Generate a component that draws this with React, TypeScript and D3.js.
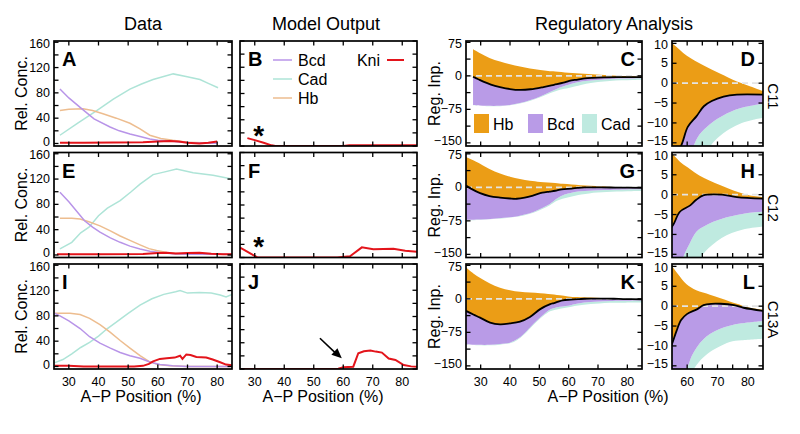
import React from "react";
import * as d3 from "d3";

type P = [number, number][];

// ---------- Data panels (A, E, I) ----------
const bcdA: P = [[27,86],[30,72],[33.8,57],[38.5,39],[43.9,26],[47,20],[50.6,15],[54,11],[57.3,7],[60,5],[64,4],[68,2],[72,1],[76,0.5],[80,0.5]];
const cadA: P = [[27,13],[33,32],[39.4,52],[45,70],[50.6,86],[54.5,94],[58.4,101],[65.2,110],[69.5,106],[74.2,101],[77,95],[80.3,88]];
const hbA: P = [[27,52],[30,54],[34.8,55],[38,52],[41.5,47],[46,40],[50.6,32],[54,23],[57.3,13],[61,8],[65,5],[70,2],[75,1],[80,0.5]];
const kniA: P = [[27,1],[35,1],[45,1.5],[55,2],[60,3],[64,4],[67,3],[70,1],[74,0],[77,1],[80,3]];

const bcdE: P = [[27,99],[30,84],[33,67],[35.3,54],[38,44],[40.5,36],[44,27],[47.3,20],[50.6,14],[54,9.5],[57.3,6],[60.7,4],[65,2],[70,1],[85,1]];
const cadE: P = [[27,9.5],[31,20],[34,35],[36.8,44],[40,62],[43,74],[47.3,86],[51,100],[54,112],[58.4,127],[62,131],[66.3,136],[71.9,130],[78.6,126],[85,120]];
const hbE: P = [[27,58],[31,58],[33.8,57],[37,52],[40.5,46],[44,38],[47.3,30],[50.6,23],[54,16],[57,10],[59.6,7],[63,4],[67,2],[72,1],[85,1]];
const kniE: P = [[26,1],[40,1],[55,1.5],[60,3],[63,3.5],[66,2.5],[70,3],[74,3.5],[78,2],[82,1],[85,1]];

const bcdI: P = [[25.3,84],[27,80],[30,72],[33.8,60],[37,47],[40.5,37],[44,29],[47.3,22],[50.6,17],[54,13],[57.3,7],[60.7,3],[65,1],[70,0],[85,0]];
const cadI: P = [[25.3,6],[28,11],[31,20],[34,30],[37,38],[40,48],[43,60],[46,70],[50,84],[54,97],[58,107],[62,114],[66,118],[67.5,120],[70,116],[74,117],[78,116],[81,113],[83,110],[85,114]];
const hbI: P = [[25.3,84],[28,84],[30.4,84],[33.8,82],[37,76],[40.5,66],[44,54],[47.3,41],[50.6,29],[54,17],[57,8],[60,3],[64,1],[70,0],[85,0]];
const kniI: P = [[25.3,1],[30,1],[35,0],[45,0],[52,0],[55,1],[57,4],[58.4,8],[60.7,12],[63,13],[65.7,14],[67.5,17],[68.3,12],[69.6,19],[71,18],[73,15],[76.3,14],[78.5,11],[80.8,7],[83,3],[85,2]];

// ---------- Model output (B, F, J): Kni only ----------
const kniB: P = [[27.5,12],[30,9],[33,5],[35.7,1],[37,0],[60,0],[62,1],[85,1]];
const kniF: P = [[25,15],[26.1,12.5],[29.5,3.8],[31,0],[58,0],[62.3,2],[66.3,15.5],[70.2,12.5],[77,13.4],[81,10.4],[85,8.8]];
const kniJ: P = [[25,0],[55,0],[58.3,0.5],[60,2.6],[63.4,3.5],[65.1,24],[67,27],[69.2,28],[71,26.5],[73.1,25],[75.4,16],[77.7,13.7],[80.5,6],[83,4],[85,3.5]];

// ---------- Regulatory analysis (C/D, G/H, K/L) ----------
const top11: P = [[27.4,59.5],[30,50],[33,40],[36.6,32],[40,26],[43.4,21],[46.8,16.5],[50.3,13],[53,10.8],[55.4,9.8],[59.9,6.9],[65.3,4.5],[70.8,2.4],[76.4,0.4],[80,-0.6],[85,-2]];
const black11: P = [[27.4,-2],[29,-7],[30.9,-13],[33.5,-19.5],[36.6,-25],[40,-29.5],[43.4,-31.5],[47,-30],[51.4,-25],[55,-20],[58.2,-15.4],[60.2,-11],[63.1,-8.3],[65.5,-5.8],[68.1,-4.5],[72,-3.4],[76.4,-2.9],[85,-2.9]];
const purple11: P = [[27.4,-65],[32,-67],[36.6,-67],[40,-65],[43.4,-61],[47,-54],[50.3,-46],[54,-35],[57,-26],[60,-20],[62,-16],[64,-13],[67.5,-10.3],[71,-8.5],[74,-7.3],[78,-6.2],[85,-5.2]];
const teal11: P = [[27.4,-66],[32,-68],[36.6,-68],[40,-66],[43.4,-62],[47,-55.5],[50.3,-48],[54,-38],[57,-31],[60,-27],[62,-24],[64.5,-20],[67.5,-16],[70,-13.8],[74,-11.5],[78,-10],[81.8,-9.2],[85,-8.7]];

const top12: P = [[25,68],[29.8,53],[33,41],[36.6,31],[40,24],[43.4,18.5],[46.8,14.5],[50.3,12],[55.4,10],[58,8],[61,6.4],[64,4.8],[67.5,3.5],[70.8,2.4],[74,1.4],[77,0.6],[80.7,-0.2],[85,-0.6]];
const black12: P = [[25,4],[27,-4],[29.8,-13],[33,-19.5],[36.6,-23],[40,-25],[42.3,-25.5],[45,-23],[48,-18],[51,-12],[53.5,-9.5],[55.4,-7.6],[57.6,-4.3],[61,-2.7],[63,-1.3],[65.3,-0.2],[71.4,0],[76.4,-0.6],[85,-1]];
const purple12: P = [[25,-72.5],[30,-72],[34.3,-70],[38,-68],[42.3,-65],[45,-61],[48,-55],[51,-46],[53.6,-37],[56,-25],[58.6,-16],[61,-12],[63.2,-9.2],[65.5,-8],[68.6,-6.8],[72,-5.9],[76.4,-5.1],[80,-4.6],[85,-4.3]];
const teal12: P = [[25,-73.5],[30,-73],[34.3,-71],[38,-69],[42.3,-66],[45,-62.5],[48,-57],[51,-48.5],[53.6,-40],[56,-30],[60,-22],[64.3,-16],[67,-13.5],[69.8,-11.7],[73,-10.2],[76.4,-9.2],[80,-8.5],[85,-8]];

const top13: P = [[25,70],[27.5,57],[30,46],[33,35],[36.6,25],[40,19.5],[43.4,16],[46.8,14],[50.3,12.5],[53,11],[55,10],[57,8],[59.8,5.5],[63,4],[67.5,2.9],[71,2],[74,1.2],[77,0.5],[79.6,-0.2],[85,-0.9]];
const black13: P = [[25,-27],[27.5,-35],[29.8,-42],[33.2,-53],[36.6,-57],[40,-55],[43.4,-51],[46.8,-40.5],[50.3,-23],[53.7,-12],[55,-9.5],[56.5,-6.2],[58,-3.5],[59.9,-2],[63.2,-0.8],[65.4,0.25],[68,0.6],[71,0.6],[75.4,0.25],[78.6,-0.4],[85,-1.2]];
const purple13: P = [[25,-101.6],[29,-103],[33.2,-103],[36.6,-101],[40,-98],[42.5,-90],[44.6,-79],[47,-63],[49.1,-49],[51.5,-35],[53.7,-24],[56,-19],[58,-17],[59.9,-15.6],[61.5,-12.5],[63.2,-10.3],[65.3,-8.4],[67.5,-7],[70.5,-5.8],[74,-4.9],[78,-4.3],[85,-3.7]];
const teal13: P = [[25,-103],[29,-104],[33.2,-104],[36.6,-102.5],[40,-99.5],[42.5,-92],[44.6,-81],[47,-65],[49.1,-51],[51.5,-37.5],[53.7,-28],[56,-24],[58,-21],[60,-19],[62,-16],[64.5,-13.5],[67.5,-11.5],[70.5,-10.2],[74,-9],[78,-8.6],[85,-8.2]];

// ---------- Labels / ticks ----------
const X_TICKS = [30, 40, 50, 60, 70, 80];
const X_TICKS_D = [60, 65, 70, 75, 80];
const X_LABELS_D = [60, 70, 80];
const CONC_LABELS = [0, 40, 80, 120, 160];
const CONC_MINOR = [0, 20, 40, 60, 80, 100, 120, 140, 160];
const INP_LABELS = [75, 0, -75, -150];
const INP_MINOR = [75, 37.5, 0, -37.5, -75, -112.5, -150];
const INPD_LABELS = [10, 5, 0, -5, -10, -15];
const TITLES = ["Data", "Model Output", "Regulatory Analysis"];
const ROW_NAMES = ["C11", "C12", "C13A"];
const LETTERS = [["A", "B", "C", "D"], ["E", "F", "G", "H"], ["I", "J", "K", "L"]];
const LEGEND_GENES = ["Bcd", "Cad", "Hb"];
const REG_LEGEND = ["Hb", "Bcd", "Cad"];

const C_BCD = "#b894e8";
const C_CAD = "#aee4d7";
const C_HB = "#edbd8f";
const C_KNI = "#e3141b";
const F_HB = "#eb9d16";
const F_BCD = "#b99be7";
const F_CAD = "#bfeae0";

const FONT = "'Liberation Sans', Arial, Helvetica, sans-serif";

const COLS = { A: [54, 232], B: [240, 417], C: [466, 642], D: [672, 763] };
const ROWS = [[41, 146], [152.5, 257.5], [264, 369]];
const TICK_FS = 12.5;

const fmt = (t: number) => (t < 0 ? "\u2212" + Math.abs(t) : String(t));

// y tick labels; the outermost labels are nudged inward so that labels of neighbouring rows do not collide
function YLabels({ ys, ticks, x }: any) {
  const hi = Math.max(...ticks), lo = Math.min(...ticks);
  return (
    <g>
      {ticks.map((t: number) => (
        <text key={t} x={x} y={ys(t) + (t === hi ? 1.5 : t === lo ? -1.5 : 0)} fontSize={TICK_FS} textAnchor="end" dominantBaseline="central">{fmt(t)}</text>
      ))}
    </g>
  );
}

function Frame({ id, xs, ys, xTicks, yTicks, tickLen = 4.5, children }: any) {
  const [x0, x1] = xs.range();
  const [y1, y0] = ys.range();
  return (
    <g>
      <defs>
        <clipPath id={id}>
          <rect x={x0} y={y0} width={x1 - x0} height={y1 - y0} />
        </clipPath>
      </defs>
      <g clipPath={`url(#${id})`}>{children}</g>
      <g stroke="#000" strokeWidth={1.3}>
        {xTicks.map((t: number) => (
          <g key={"x" + t}>
            <line x1={xs(t)} x2={xs(t)} y1={y0} y2={y0 + tickLen} />
            <line x1={xs(t)} x2={xs(t)} y1={y1} y2={y1 - tickLen} />
          </g>
        ))}
        {yTicks.map((t: number) => (
          <g key={"y" + t}>
            <line x1={x0} x2={x0 + tickLen} y1={ys(t)} y2={ys(t)} />
            <line x1={x1} x2={x1 - tickLen} y1={ys(t)} y2={ys(t)} />
          </g>
        ))}
      </g>
      <rect x={x0} y={y0} width={x1 - x0} height={y1 - y0} fill="none" stroke="#000" strokeWidth={1.7} />
    </g>
  );
}

function band(xs: any, ys: any, upper: P, lower: P) {
  const ln = d3.line<[number, number]>().x((d) => xs(d[0])).y((d) => ys(d[1])).curve(d3.curveCatmullRom.alpha(0.5));
  const f = ln(upper) as string;
  const b = ln(lower.slice().reverse()) as string;
  return f + "L" + b.slice(1) + "Z";
}

export default function App() {
  const dataSets = [
    { bcd: bcdA, cad: cadA, hb: hbA, kni: kniA },
    { bcd: bcdE, cad: cadE, hb: hbE, kni: kniE },
    { bcd: bcdI, cad: cadI, hb: hbI, kni: kniI },
  ];
  const modelSets = [kniB, kniF, kniJ];
  const regSets = [
    { top: top11, black: black11, purple: purple11, teal: teal11 },
    { top: top12, black: black12, purple: purple12, teal: teal12 },
    { top: top13, black: black13, purple: purple13, teal: teal13 },
  ];

  return (
    <svg width={800} height={434} style={{ display: "block", position: "absolute", left: 0, top: 0 }} fontFamily={FONT}>
      <rect width={800} height={434} fill="#fff" />
      <text x={143} y={30} fontSize={18} textAnchor="middle">{TITLES[0]}</text>
      <text x={326} y={30} fontSize={18} textAnchor="middle">{TITLES[1]}</text>
      <text x={614} y={30} fontSize={18} textAnchor="middle">{TITLES[2]}</text>

      {ROWS.map((r, ri) => {
        const [top, bot] = r;
        const mid = (top + bot) / 2;
        const xA = d3.scaleLinear().domain([25, 85]).range(COLS.A);
        const xB = d3.scaleLinear().domain([25, 85]).range(COLS.B);
        const xC = d3.scaleLinear().domain([25, 85]).range(COLS.C);
        const xD = d3.scaleLinear().domain([55, 85]).range(COLS.D);
        const yA = d3.scaleLinear().domain([-4, 162]).range([bot, top]);
        const yB = d3.scaleLinear().domain([0, 160]).range([bot, top]);
        const yC = d3.scaleLinear().domain([-157, 78]).range([bot, top]);
        const yD = d3.scaleLinear().domain([-15.8, 10.6]).range([bot, top]);
        const ds = dataSets[ri];
        const lineA = d3.line<[number, number]>().x((d) => xA(d[0])).y((d) => yA(d[1]));
        const lineB = d3.line<[number, number]>().x((d) => xB(d[0])).y((d) => yB(d[1]));
        const rs = regSets[ri];
        const lnC = d3.line<[number, number]>().x((d) => xC(d[0])).y((d) => yC(d[1])).curve(d3.curveCatmullRom.alpha(0.5));
        const lnD = d3.line<[number, number]>().x((d) => xD(d[0])).y((d) => yD(d[1])).curve(d3.curveCatmullRom.alpha(0.5));
        const last = ri === 2;
        return (
          <g key={ri}>
            <Frame id={"cA" + ri} xs={xA} ys={yA} xTicks={X_TICKS} yTicks={CONC_MINOR}>
              <path d={lineA(ds.cad) as string} fill="none" stroke={C_CAD} strokeWidth={1.5} />
              <path d={lineA(ds.hb) as string} fill="none" stroke={C_HB} strokeWidth={1.5} />
              <path d={lineA(ds.bcd) as string} fill="none" stroke={C_BCD} strokeWidth={1.5} />
              <path d={lineA(ds.kni) as string} fill="none" stroke={C_KNI} strokeWidth={2} />
            </Frame>
            <YLabels ys={yA} ticks={CONC_LABELS} x={COLS.A[0] - 4} />
            <text transform={`translate(21,${mid}) rotate(-90)`} fontSize={16} textAnchor="middle" dominantBaseline="central">Rel. Conc.</text>
            <text x={COLS.A[0] + 8} y={top + 25} fontSize={20} fontWeight="bold">{LETTERS[ri][0]}</text>

            <Frame id={"cB" + ri} xs={xB} ys={yB} xTicks={X_TICKS} yTicks={CONC_MINOR}>
              <path d={lineB(modelSets[ri]) as string} fill="none" stroke={C_KNI} strokeWidth={2} />
            </Frame>
            <text x={COLS.B[0] + 8} y={top + 25} fontSize={20} fontWeight="bold">{LETTERS[ri][1]}</text>

            <Frame id={"cC" + ri} xs={xC} ys={yC} xTicks={X_TICKS} yTicks={INP_MINOR}>
              <path d={band(xC, yC, rs.purple, rs.teal)} fill={F_CAD} />
              <path d={band(xC, yC, rs.black, rs.purple)} fill={F_BCD} />
              <path d={band(xC, yC, rs.top, rs.black)} fill={F_HB} />
              <line x1={COLS.C[0]} x2={COLS.C[1]} y1={yC(0)} y2={yC(0)} stroke="#e4e4e4" strokeWidth={1.6} strokeDasharray="6,4" />
              <path d={lnC(rs.black) as string} fill="none" stroke="#000" strokeWidth={1.8} />
            </Frame>
            <YLabels ys={yC} ticks={INP_LABELS} x={COLS.C[0] - 4} />
            <text transform={`translate(434,${mid}) rotate(-90)`} fontSize={16} textAnchor="middle" dominantBaseline="central">Reg. Inp.</text>
            <text x={COLS.C[1] - 7} y={top + 25} fontSize={20} fontWeight="bold" textAnchor="end">{LETTERS[ri][2]}</text>

            <Frame id={"cD" + ri} xs={xD} ys={yD} xTicks={X_TICKS_D} yTicks={INPD_LABELS}>
              <path d={band(xD, yD, rs.purple, rs.teal)} fill={F_CAD} />
              <path d={band(xD, yD, rs.black, rs.purple)} fill={F_BCD} />
              <path d={band(xD, yD, rs.top, rs.black)} fill={F_HB} />
              <line x1={COLS.D[0]} x2={COLS.D[1]} y1={yD(0)} y2={yD(0)} stroke="#e4e4e4" strokeWidth={1.6} strokeDasharray="6,4" />
              <path d={lnD(rs.black) as string} fill="none" stroke="#000" strokeWidth={1.8} />
            </Frame>
            <YLabels ys={yD} ticks={INPD_LABELS} x={COLS.D[0] - 4} />
            <text x={COLS.D[1] - 8} y={top + 25} fontSize={20} fontWeight="bold" textAnchor="end">{LETTERS[ri][3]}</text>
            <text transform={`translate(773,${mid + 3}) rotate(90)`} fontSize={15} textAnchor="middle" dominantBaseline="central">{ROW_NAMES[ri]}</text>

            {last && (
              <g>
                {X_TICKS.map((t) => (
                  <g key={t}>
                    <text x={xA(t)} y={bot + 17} fontSize={TICK_FS} textAnchor="middle">{t}</text>
                    <text x={xB(t)} y={bot + 17} fontSize={TICK_FS} textAnchor="middle">{t}</text>
                    <text x={xC(t)} y={bot + 17} fontSize={TICK_FS} textAnchor="middle">{t}</text>
                  </g>
                ))}
                {X_LABELS_D.map((t) => (
                  <text key={t} x={xD(t)} y={bot + 17} fontSize={TICK_FS} textAnchor="middle">{t}</text>
                ))}
                <text x={141} y={402} fontSize={16} textAnchor="middle">A{"\u2212"}P Position (%)</text>
                <text x={323} y={402} fontSize={16} textAnchor="middle">A{"\u2212"}P Position (%)</text>
                <text x={608} y={402} fontSize={16} textAnchor="middle">A{"\u2212"}P Position (%)</text>
                <line x1={xB(52.1)} y1={yB(46.8)} x2={xB(58.3)} y2={yB(20.5)} stroke="#000" strokeWidth={1.6} />
                <path
                  d={(() => {
                    const ex = xB(59.5), ey = yB(16.3);
                    const sx = xB(52.1), sy = yB(46.8);
                    const a = Math.atan2(ey - sy, ex - sx);
                    const L = 10, Wd = 4.5;
                    const bx = ex - L * Math.cos(a), by = ey - L * Math.sin(a);
                    return `M${ex},${ey}L${bx + Wd * Math.sin(a)},${by - Wd * Math.cos(a)}L${bx - Wd * Math.sin(a)},${by + Wd * Math.cos(a)}Z`;
                  })()}
                  fill="#000"
                />
              </g>
            )}
            {ri < 2 && (
              <text x={xB(31.3)} y={yB(26) + 16} fontSize={28} fontWeight="bold" textAnchor="middle">*</text>
            )}
          </g>
        );
      })}

      {LEGEND_GENES.map((g, i) => (
        <g key={g}>
          <line x1={273} x2={292} y1={60 + i * 19} y2={60 + i * 19} stroke={[C_BCD, C_CAD, C_HB][i]} strokeWidth={1.5} />
          <text x={298} y={60 + i * 19} fontSize={16} dominantBaseline="central">{g}</text>
        </g>
      ))}
      <text x={380} y={60} fontSize={16} textAnchor="end" dominantBaseline="central">Kni</text>
      <line x1={387} x2={404} y1={60} y2={60} stroke={C_KNI} strokeWidth={2} />

      {REG_LEGEND.map((g, i) => (
        <g key={g}>
          <rect x={474 + i * 54} y={114} width={15} height={19} fill={[F_HB, F_BCD, F_CAD][i]} />
          <text x={493 + i * 54} y={124} fontSize={16} dominantBaseline="central">{g}</text>
        </g>
      ))}
    </svg>
  );
}
